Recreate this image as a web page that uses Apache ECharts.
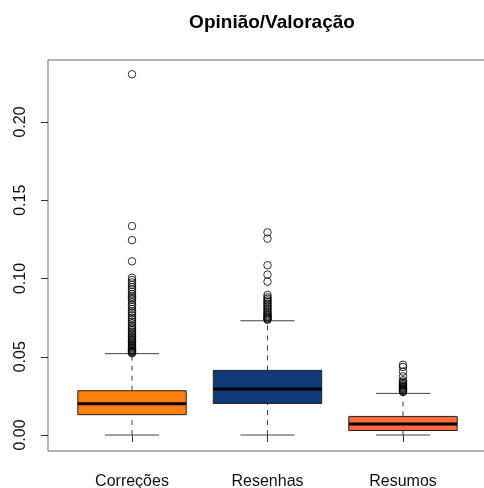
<!DOCTYPE html>
<html>
<head>
<meta charset="utf-8">
<script src="https://cdn.jsdelivr.net/npm/echarts@6/dist/echarts.min.js"></script>
<style>
  html, body { margin: 0; padding: 0; background: #fff; }
  #chart { width: 484px; height: 488px; }
</style>
</head>
<body>
<div id="chart"></div>
<script>
// Categories and five-number summaries [lower whisker, Q1, median, Q3, upper whisker]
const categories = ['Correções', 'Resenhas', 'Resumos'];
const boxStats = [
  [0.000, 0.0130, 0.0200, 0.0283, 0.0520],
  [0.000, 0.0202, 0.0294, 0.0413, 0.0730],
  [0.000, 0.0029, 0.0070, 0.0119, 0.0266]
];
const boxColors = ['#ff7f0e', '#0e3a78', '#ff6a3a'];

// Outliers per category
const outliersCorrecoes = [
  0.2305, 0.1335, 0.1245, 0.1110, 0.1005, 0.0990, 0.0975, 0.0960, 0.0945, 0.0930,
  0.0915, 0.0900, 0.0885, 0.0875, 0.0865, 0.0850, 0.0835, 0.0820, 0.0805, 0.0790,
  0.0780, 0.0765, 0.0750, 0.0740, 0.0725, 0.0715, 0.0700, 0.0690, 0.0680, 0.0670,
  0.0660, 0.0650, 0.0640, 0.0630, 0.0620, 0.0612, 0.0605, 0.0598, 0.0590, 0.0582,
  0.0575, 0.0568, 0.0560, 0.0555, 0.0548, 0.0542, 0.0537, 0.0532, 0.0527, 0.0523
];
const outliersResenhas = [
  0.1295, 0.1255, 0.1085, 0.1025, 0.0980, 0.0895, 0.0880, 0.0870, 0.0860, 0.0850,
  0.0840, 0.0830, 0.0820, 0.0810, 0.0800, 0.0790, 0.0780, 0.0772, 0.0765, 0.0758,
  0.0752, 0.0746, 0.0741, 0.0736
];
const outliersResumos = [
  0.0449, 0.0435, 0.0405, 0.0375, 0.0350, 0.0340, 0.0332, 0.0325, 0.0318, 0.0312,
  0.0306, 0.0300, 0.0295, 0.0290, 0.0285, 0.0280, 0.0275
];
const yTicks = [0, 0.05, 0.10, 0.15, 0.20];
const xTicks = [1, 2, 3];

const boxData = boxStats.map((s, i) => [i + 1].concat(s));
const outlierData = [outliersCorrecoes, outliersResenhas, outliersResumos]
  .flatMap((list, i) => list.map(v => [i + 1, v]));

const chart = echarts.init(document.getElementById('chart'), null, { renderer: 'canvas' });

function renderBox(params, api) {
  const x = api.value(0);
  const lo = api.value(1), q1 = api.value(2), med = api.value(3), q3 = api.value(4), hi = api.value(5);
  const w = api.size([0.8, 0])[0];
  const sw = w / 2;
  const pLo = api.coord([x, lo]);
  const pQ1 = api.coord([x, q1]);
  const pMed = api.coord([x, med]);
  const pQ3 = api.coord([x, q3]);
  const pHi = api.coord([x, hi]);
  const cx = pMed[0];
  const whisk = { stroke: '#444', lineWidth: 1, lineDash: [5, 5] };
  const staple = { stroke: '#444', lineWidth: 1 };
  return {
    type: 'group',
    children: [
      { type: 'line', shape: { x1: cx, y1: pLo[1], x2: cx, y2: pQ1[1] }, style: whisk },
      { type: 'line', shape: { x1: cx, y1: pQ3[1], x2: cx, y2: pHi[1] }, style: whisk },
      { type: 'line', shape: { x1: cx - sw / 2, y1: pLo[1], x2: cx + sw / 2, y2: pLo[1] }, style: staple },
      { type: 'line', shape: { x1: cx - sw / 2, y1: pHi[1], x2: cx + sw / 2, y2: pHi[1] }, style: staple },
      { type: 'rect', shape: { x: cx - w / 2, y: pQ3[1], width: w, height: pQ1[1] - pQ3[1] },
        style: { fill: boxColors[params.dataIndex], stroke: '#222', lineWidth: 1 } },
      { type: 'line', shape: { x1: cx - w / 2, y1: pMed[1], x2: cx + w / 2, y2: pMed[1] },
        style: { stroke: '#000', lineWidth: 3 } }
    ]
  };
}

chart.setOption({
  animation: false,
  backgroundColor: '#fff',
  title: {
    text: 'Opinião/Valoração',
    left: 267, top: 8, textAlign: 'center',
    textStyle: { fontFamily: 'Liberation Sans', fontWeight: 'bold', fontSize: 19, color: '#000' }
  },
  grid: {
    left: 48, right: -3, top: 60, bottom: 37,
    outerBoundsMode: 'none',
    containLabel: false,
    show: true, borderColor: '#6a6a6a', borderWidth: 1, backgroundColor: 'transparent'
  },
  xAxis: {
    type: 'value', min: 0.38, max: 3.62,
    splitLine: { show: false },
    axisLine: { show: false },
    axisTick: { show: true, length: 7, customValues: xTicks, lineStyle: { color: '#333' } },
    axisLabel: {
      show: true, customValues: xTicks, margin: 23,
      fontFamily: 'Liberation Sans', fontSize: 16, color: '#111',
      formatter: v => categories[Math.round(v) - 1] || ''
    }
  },
  yAxis: {
    type: 'value', min: -0.0102, max: 0.2396,
    splitLine: { show: false },
    axisLine: { show: false },
    axisTick: { show: true, length: 7, customValues: yTicks, lineStyle: { color: '#333' } },
    axisLabel: {
      show: true, customValues: yTicks, rotate: 90, margin: 19,
      fontFamily: 'Liberation Sans', fontSize: 16, color: '#111',
      formatter: v => v.toFixed(2)
    }
  },
  series: [
    {
      type: 'custom',
      renderItem: renderBox,
      data: boxData,
      encode: { x: 0, y: [1, 2, 3, 4, 5] },
      z: 2
    },
    {
      type: 'scatter',
      data: outlierData,
      symbol: 'circle',
      symbolSize: 7.5,
      itemStyle: { color: 'rgba(0,0,0,0)', borderColor: '#000', borderWidth: 1 },
      z: 3
    }
  ]
});
</script>
</body>
</html>
